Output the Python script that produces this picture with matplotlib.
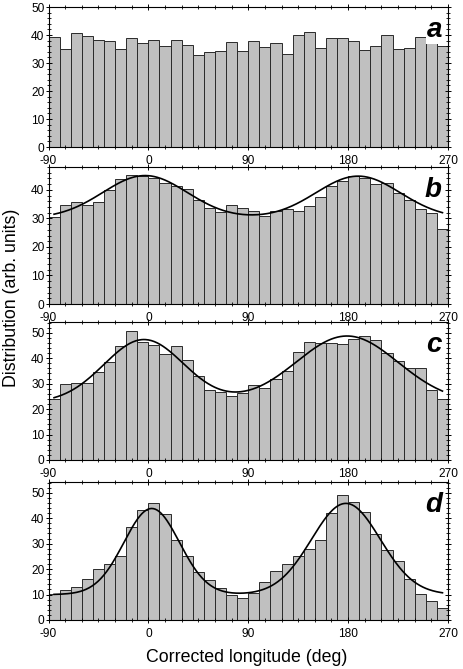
import numpy as np
import matplotlib
matplotlib.use("Agg")
import matplotlib.pyplot as plt
from matplotlib.ticker import MultipleLocator

plt.rcParams["font.family"] = ["Liberation Sans", "DejaVu Sans"]
plt.rcParams["axes.unicode_minus"] = False

# ---- histogram data: 36 bins of 10 deg from -90 to 270 ----
bin_edges = np.arange(-90, 271, 10)

hist_a = [39.3, 35.0, 40.7, 39.6, 38.3, 37.8, 35.0, 38.9, 37.1, 38.1, 36.2, 38.1,
          36.5, 32.8, 33.9, 34.4, 37.5, 34.3, 37.9, 35.8, 37.2, 33.2, 40.0, 40.9,
          35.3, 38.9, 38.8, 37.8, 34.8, 36.2, 40.1, 35.0, 35.3, 39.4, 38.2, 36.2]
hist_b = [30.4, 34.6, 35.6, 34.7, 35.8, 39.9, 43.9, 45.3, 44.9, 44.2, 42.3, 41.5,
          40.2, 36.5, 33.5, 32.3, 34.6, 33.5, 32.6, 30.9, 32.7, 33.2, 32.7, 34.3,
          37.4, 41.4, 43.0, 44.7, 44.1, 42.1, 42.3, 38.8, 36.5, 33.2, 32.0, 26.2]
hist_c = [23.8, 29.7, 30.1, 30.4, 34.4, 38.4, 44.8, 50.5, 46.2, 45.0, 41.6, 44.8,
          39.3, 33.0, 27.6, 26.7, 25.1, 26.2, 29.3, 28.3, 31.9, 34.9, 42.4, 46.3,
          45.8, 45.9, 45.5, 47.4, 48.6, 47.1, 42.0, 39.0, 36.1, 36.3, 27.6, 23.8]
hist_d = [10.1, 11.6, 12.8, 16.0, 19.9, 22.0, 25.0, 36.5, 43.3, 45.8, 41.6, 31.5,
          25.0, 19.0, 15.6, 12.4, 9.7, 8.6, 10.6, 14.8, 19.1, 21.9, 25.0, 28.0,
          31.3, 41.9, 49.0, 46.2, 42.3, 33.6, 27.6, 23.0, 16.2, 10.3, 7.3, 4.6]

# ---- two-peak fit parameters (baseline, amp, centre, width) ----
fit_base = [30.0, 22.5, 10.0]
fit_amp1 = [15.0, 24.8, 33.8]
fit_cen1 = [-3.0, -4.0, 3.0]
fit_sig1 = [38.0, 36.0, 25.0]
fit_amp2 = [14.8, 26.2, 35.8]
fit_cen2 = [189.0, 179.0, 178.0]
fit_sig2 = [38.0, 46.0, 31.0]

panel_labels = ["a", "b", "c", "d"]
panel_ymax = [50, 48, 54.2, 54.2]
xticks = [-90, 0, 90, 180, 270]

W, H = 463, 669
fig = plt.figure(figsize=(W / 100, H / 100), dpi=100)
rects = [(7, 147), (167, 304), (322, 460), (482, 620)]
x0, x1 = 48.5, 448

hists = [hist_a, hist_b, hist_c, hist_d]
for i, (top, bot) in enumerate(rects):
    ax = fig.add_axes([x0 / W, 1 - bot / H, (x1 - x0) / W, (bot - top) / H])
    ax.hist(bin_edges[:-1], bins=bin_edges, weights=hists[i],
            color="#c0c0c0", edgecolor="#2a2a2a", linewidth=0.7)
    if i > 0:
        k = i - 1
        xc = np.linspace(-85, 265, 400)
        yc = (fit_base[k]
              + fit_amp1[k] * np.exp(-(xc - fit_cen1[k]) ** 2 / (2 * fit_sig1[k] ** 2))
              + fit_amp2[k] * np.exp(-(xc - fit_cen2[k]) ** 2 / (2 * fit_sig2[k] ** 2)))
        ax.plot(xc, yc, color="black", lw=1.2)
    ax.set_xlim(-90, 270)
    ax.set_ylim(0, panel_ymax[i])
    ax.set_xticks(xticks)
    ax.xaxis.set_minor_locator(MultipleLocator(15))
    ax.yaxis.set_major_locator(MultipleLocator(10))
    ax.yaxis.set_minor_locator(MultipleLocator(2))
    ax.tick_params(which="both", direction="inout", top=True, right=True,
                   labelsize=8.6)
    ax.tick_params(axis="y", pad=1)
    ax.tick_params(axis="x", pad=3.5)
    ax.tick_params(which="major", length=4, width=0.7)
    ax.tick_params(which="minor", length=2.5, width=0.6)
    for s in ax.spines.values():
        s.set_linewidth(0.8)
    bbox = dict(facecolor="white", edgecolor="none", pad=0.5) if i == 0 else None
    ax.text(0.985, 0.93, panel_labels[i], transform=ax.transAxes, ha="right", va="top",
            fontsize=20, fontweight="bold", style="italic", bbox=bbox)

fig.text(12 / W, 1 - 298 / H, "Distribution (arb. units)", rotation=90,
         ha="center", va="center", fontsize=12.8)
fig.text(247 / W, 1 - 658 / H, "Corrected longitude (deg)",
         ha="center", va="center", fontsize=12.8)

fig.savefig("out.png", dpi=100)
